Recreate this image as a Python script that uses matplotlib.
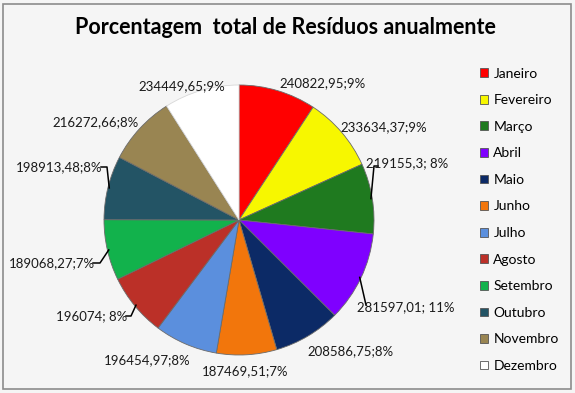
import matplotlib.pyplot as plt
import numpy as np
from matplotlib.patches import Rectangle

plt.rcParams['font.family'] = ['Lato', 'DejaVu Sans']

titulo = "Porcentagem  total de Resíduos anualmente"

meses = ["Janeiro", "Fevereiro", "Março", "Abril", "Maio", "Junho",
         "Julho", "Agosto", "Setembro", "Outubro", "Novembro", "Dezembro"]
residuos = [240822.95, 233634.37, 219155.3, 281597.01, 208586.75, 187469.51,
            196454.97, 196074, 189068.27, 198913.48, 216272.66, 234449.65]
rotulos = ["240822,95;9%", "233634,37;9%", "219155,3; 8%", "281597,01; 11%",
           "208586,75;8%", "187469,51;7%", "196454,97;8%", "196074; 8%",
           "189068,27;7%", "198913,48;8%", "216272,66;8%", "234449,65;9%"]

cores = ["#ff0000", "#f7f700", "#1f7a1f", "#7f00ff", "#0c2a66", "#f2760c",
         "#5b8fdd", "#bb3028", "#12b24c", "#235465", "#998552", "#ffffff"]

# layout (pixels of the 575x393 picture)
W, H = 575, 393
cx, cy, r = 239, 220, 135
pos_rotulo = [(323, 83), (384, 127), (407, 163), (406, 307), (350, 351), (245, 371),
              (147, 360), (92, 316), (52, 263), (59, 167), (96, 122), (182, 86)]
ancora = {2: (378, 166), 3: (366, 305), 7: (126, 316), 8: (93, 263), 9: (101, 167)}
gancho = {2: (374, 166), 3: (366, 305), 7: (131, 316), 8: (100, 263), 9: (107, 167)}

fig = plt.figure(figsize=(W / 100, H / 100), dpi=100)
fig.patch.set_facecolor("#f5f5f5")
fig.patches.append(Rectangle((3 / W, 4 / H), 568 / W, 385 / H, transform=fig.transFigure,
                             fill=False, edgecolor="#8c8c8c", linewidth=1.2))

fig.text(285 / W, 1 - 28 / H, titulo, ha="center", va="center",
         fontsize=15.5, fontweight="bold", color="black")

ax = fig.add_axes([(cx - r) / W, (H - cy - r) / H, 2 * r / W, 2 * r / H])

wedges, _ = ax.pie(residuos, colors=cores, startangle=90, counterclock=False, radius=1,
                   wedgeprops=dict(edgecolor="#6b6b6b", linewidth=0.6))
wedges[-1].set_edgecolor("#d8d8d8")
ax.set_xlim(-1, 1)
ax.set_ylim(-1, 1)
ax.set_aspect("equal")
ax.set_axis_off()


def px2data(p):
    return (p[0] - cx) / r, (cy - p[1]) / r


for i, w in enumerate(wedges):
    tx, ty = px2data(pos_rotulo[i])
    ax.text(tx, ty, rotulos[i], ha="center", va="center", fontsize=9.5,
            color="#1a1a1a", clip_on=False)
    if i in ancora:
        ang = np.deg2rad((w.theta1 + w.theta2) / 2)
        ex, ey = 0.99 * np.cos(ang), 0.99 * np.sin(ang)
        ax_, ay_ = px2data(ancora[i])
        gx, gy = px2data(gancho[i])
        ax.plot([ax_, gx, ex], [ay_, gy, ey], color="black", linewidth=1.1, clip_on=False)

leg = fig.legend(wedges, meses, loc="upper left", bbox_to_anchor=(474 / W, 1 - 62 / H),
                 frameon=False, fontsize=10, handlelength=0.6, handleheight=0.6,
                 handletextpad=0.4, labelspacing=1.05, borderaxespad=0)
for h in leg.legend_handles:
    h.set_edgecolor("#555555")
    h.set_linewidth(0.6)

plt.savefig("out.png", dpi=100, facecolor=fig.get_facecolor())
